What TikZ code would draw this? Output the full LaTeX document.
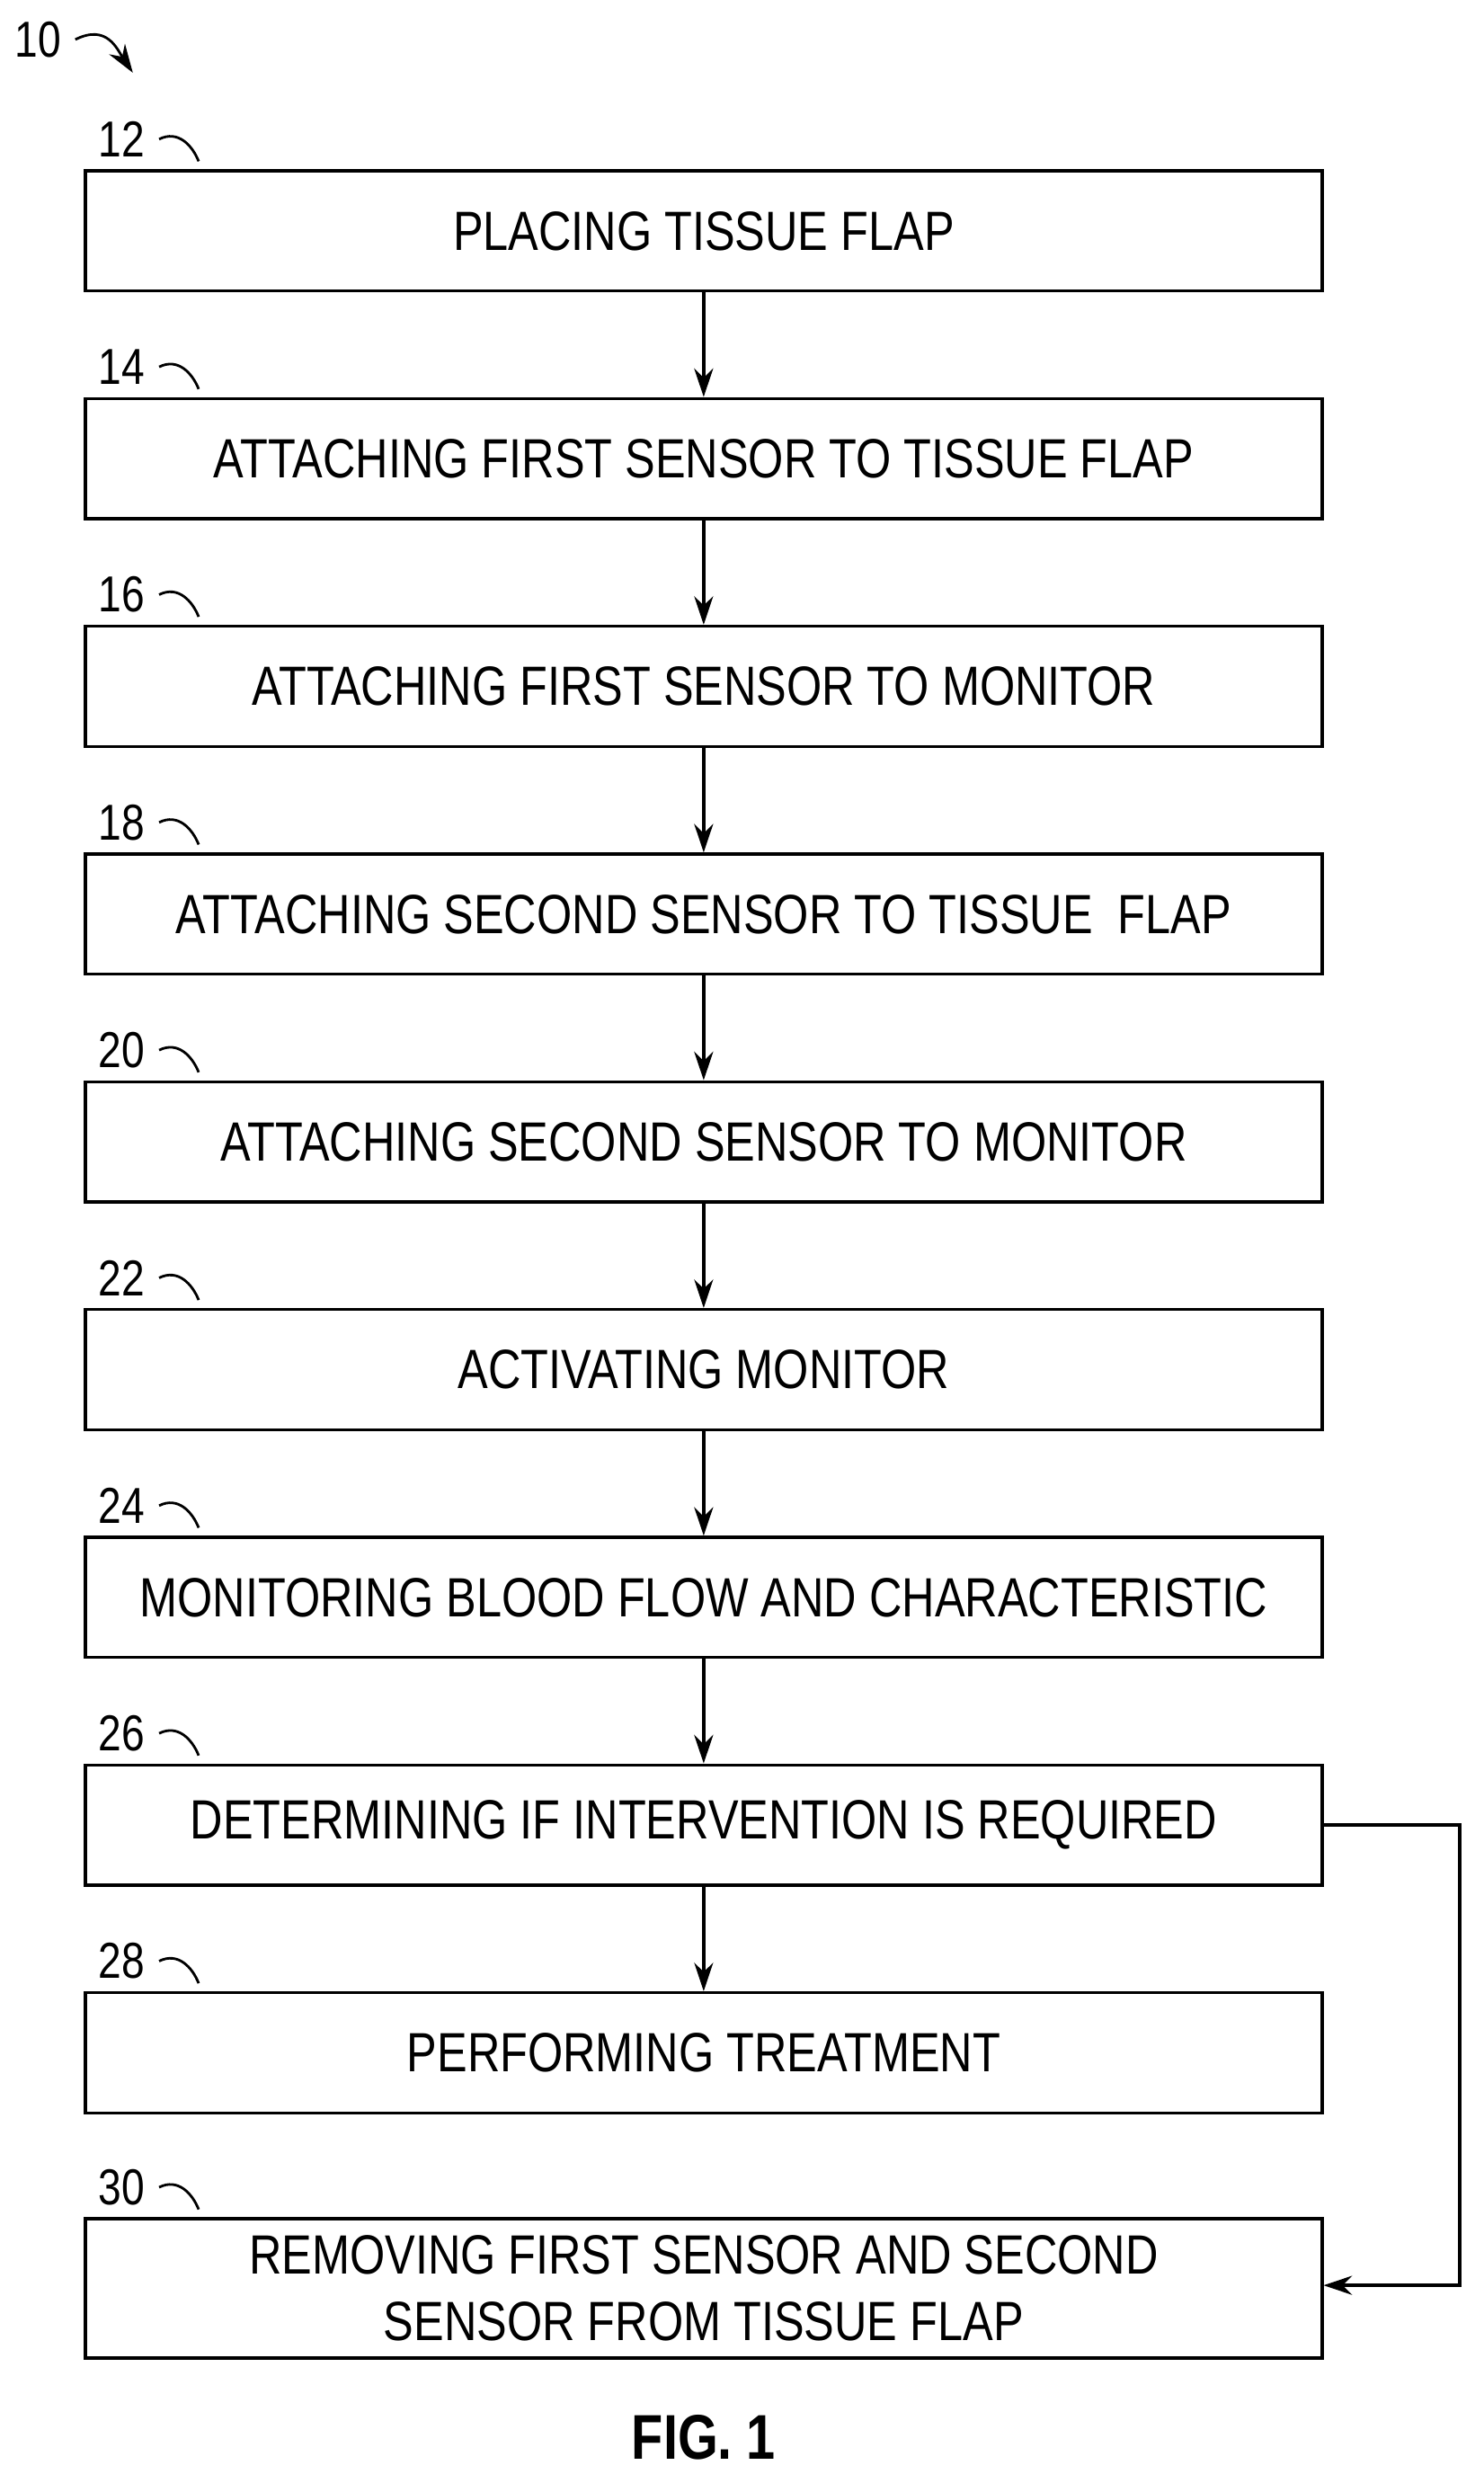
\documentclass[tikz,border=0pt]{standalone}
\usepackage{fontspec}
\setmainfont{Liberation Sans}[FakeStretch=0.82]
\usetikzlibrary{arrows.meta}
\begin{document}
\begin{tikzpicture}[x=0.01759cm,y=-0.01759cm,
  box/.style={draw,line width=1pt,minimum width=782*0.01759cm,minimum height=76*0.01759cm,inner sep=0pt,align=center,font=\fontsize{17.5}{21}\selectfont},
  arr/.style={-{Stealth[length=9pt,width=6pt]},line width=1pt},
  ref/.style={font=\fontsize{16}{18}\selectfont,anchor=center}]
\useasboundingbox (0,0) rectangle (938,1570);
\foreach \n/\y/\t in {12/146/PLACING TISSUE FLAP,14/290/ATTACHING FIRST SENSOR TO TISSUE FLAP,16/434/ATTACHING FIRST SENSOR TO MONITOR,18/578/ATTACHING SECOND SENSOR TO TISSUE\ \ FLAP,20/722/ATTACHING SECOND SENSOR TO MONITOR,22/866/ACTIVATING MONITOR,24/1010/MONITORING BLOOD FLOW AND CHARACTERISTIC,26/1154/DETERMINING IF INTERVENTION IS REQUIRED,28/1298/PERFORMING TREATMENT}{
  \node[box] (b\n) at (445,\y) {\t};
  \node[ref] (l\n) at (77,\y-58) {\n};
  \draw[line width=0.8pt] (l\n.east) ++(2,0) .. controls +(12,-6) and +(-4,-10) .. ++(25,14);
}
\node[box,minimum height=88*0.01759cm] (b30) at (445,1447) {REMOVING FIRST SENSOR AND SECOND\\SENSOR FROM TISSUE FLAP};
\node[ref] (l30) at (77,1383) {30};
\draw[line width=0.8pt] (l30.east) ++(2,0) .. controls +(12,-6) and +(-4,-10) .. ++(25,14);
\foreach \a/\b in {12/14,14/16,16/18,18/20,20/22,22/24,24/26,26/28}
  \draw[arr] (b\a) -- (b\b);
\coordinate (c1) at (923,1154);
\coordinate (c2) at (923,1445);
\draw[arr] (b26.east) -- (c1) -- (c2) -- (b30.east |- c2);
\node[ref] (l10) at (24,25) {10};
\draw[arr,line width=0.8pt] (l10.east) ++(2,0) .. controls +(20,-10) and +(-10,-15) .. (84,46);
\node[font=\bfseries\fontsize{20}{24}\selectfont] (fig) at (445,1541) {FIG. 1};
\end{tikzpicture}
\end{document}
